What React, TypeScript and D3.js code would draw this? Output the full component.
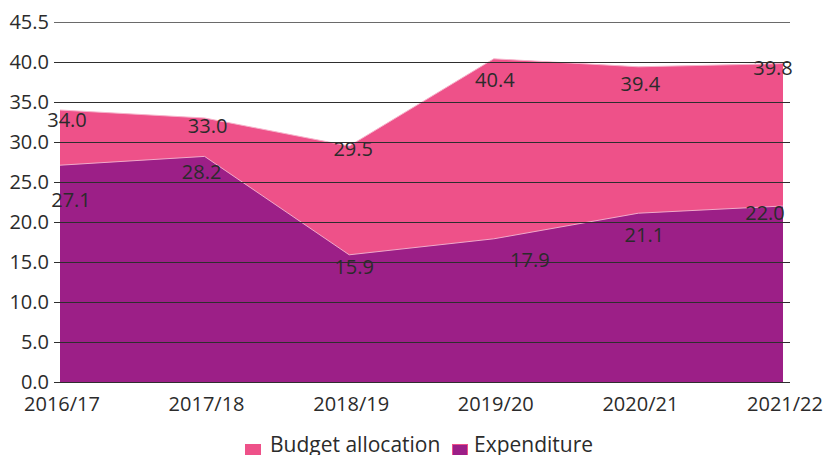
import React from "react";
import * as d3 from "d3";

const categories = ["2016/17", "2017/18", "2018/19", "2019/20", "2020/21", "2021/22"];
const budgetAllocation = [34.0, 33.0, 29.5, 40.4, 39.4, 39.8];
const expenditure = [27.1, 28.2, 15.9, 17.9, 21.1, 22.0];
const yTickValues = [0, 5, 10, 15, 20, 25, 30, 35, 40, 45];
const yTickLabels = ["0.0", "5.0", "10.0", "15.0", "20.0", "25.0", "30.0", "35.0", "40.0", "45.5"];
const seriesNames = ["Budget allocation", "Expenditure"];

// label nudges (px) relative to the data point
const budgetLabelDx = [7, 3, 4, 1, 2, -10];
const budgetLabelDy = [10, 8, 3, 21, 17, 4];
const expLabelDx = [11, -3, 5, 36, 6, -18];
const expLabelDy = [35, 15, 12, 21, 22, 7];

const W = 825;
const H = 455;
const PINK = "#ee5189";
const PURPLE = "#9c1f87";
const TEXT = "#2b2b2b";
const FONT = "'Open Sans', 'Noto Sans', sans-serif";

export default function App() {
  const x = d3.scalePoint<string>().domain(categories).range([60, 783]);
  const y = d3.scaleLinear().domain([0, 45]).range([382, 22]);

  const area = d3
    .area<number>()
    .x((_, i) => x(categories[i]) as number)
    .y0(y(0))
    .y1((d) => y(d));

  const line = d3
    .line<number>()
    .x((_, i) => x(categories[i]) as number)
    .y((d) => y(d));

  return (
    <svg
      width={W}
      height={H}
      style={{ position: "absolute", left: 0, top: 0, background: "#fff" }}
      fontFamily={FONT}
    >
      <path d={area(budgetAllocation) || ""} fill={PINK} />
      <path d={line(budgetAllocation) || ""} fill="none" stroke="#f6b3cb" strokeWidth={1} />
      <path d={area(expenditure) || ""} fill={PURPLE} />
      <path d={line(expenditure) || ""} fill="none" stroke="#f1a9c9" strokeWidth={1} />

      {yTickValues.map((v, i) => (
        <g key={v}>
          <line
            x1={54}
            x2={790}
            y1={Math.round(y(v)) + 0.5}
            y2={Math.round(y(v)) + 0.5}
            stroke={i === yTickValues.length - 1 ? "#6a6a6a" : "#2e2e2e"}
            strokeWidth={1}
          />
          <text
            x={49}
            y={y(v)}
            dy="0.36em"
            textAnchor="end"
            fontSize={20}
            fill={TEXT}
          >
            {yTickLabels[i]}
          </text>
        </g>
      ))}

      {categories.map((c) => (
        <text
          key={c}
          x={(x(c) as number) + 2}
          y={411}
          textAnchor="middle"
          fontSize={20}
          fill={TEXT}
        >
          {c}
        </text>
      ))}

      {budgetAllocation.map((v, i) => (
        <text
          key={"b" + i}
          x={(x(categories[i]) as number) + budgetLabelDx[i]}
          y={y(v) + budgetLabelDy[i]}
          dy="0.36em"
          textAnchor="middle"
          fontSize={20}
          fill={TEXT}
        >
          {v.toFixed(1)}
        </text>
      ))}
      {expenditure.map((v, i) => (
        <text
          key={"e" + i}
          x={(x(categories[i]) as number) + expLabelDx[i]}
          y={y(v) + expLabelDy[i]}
          dy="0.36em"
          textAnchor="middle"
          fontSize={20}
          fill={TEXT}
        >
          {v.toFixed(1)}
        </text>
      ))}

      <g>
        <rect x={245} y={444} width={16} height={16} fill={PINK} />
        <text x={270} y={452} fontSize={21} fill={TEXT}>
          {seriesNames[0]}
        </text>
        <rect x={452.5} y={444.5} width={15} height={15} fill={PURPLE} stroke={PINK} strokeWidth={1} />
        <text x={474} y={452} fontSize={21} fill={TEXT}>
          {seriesNames[1]}
        </text>
      </g>
    </svg>
  );
}
